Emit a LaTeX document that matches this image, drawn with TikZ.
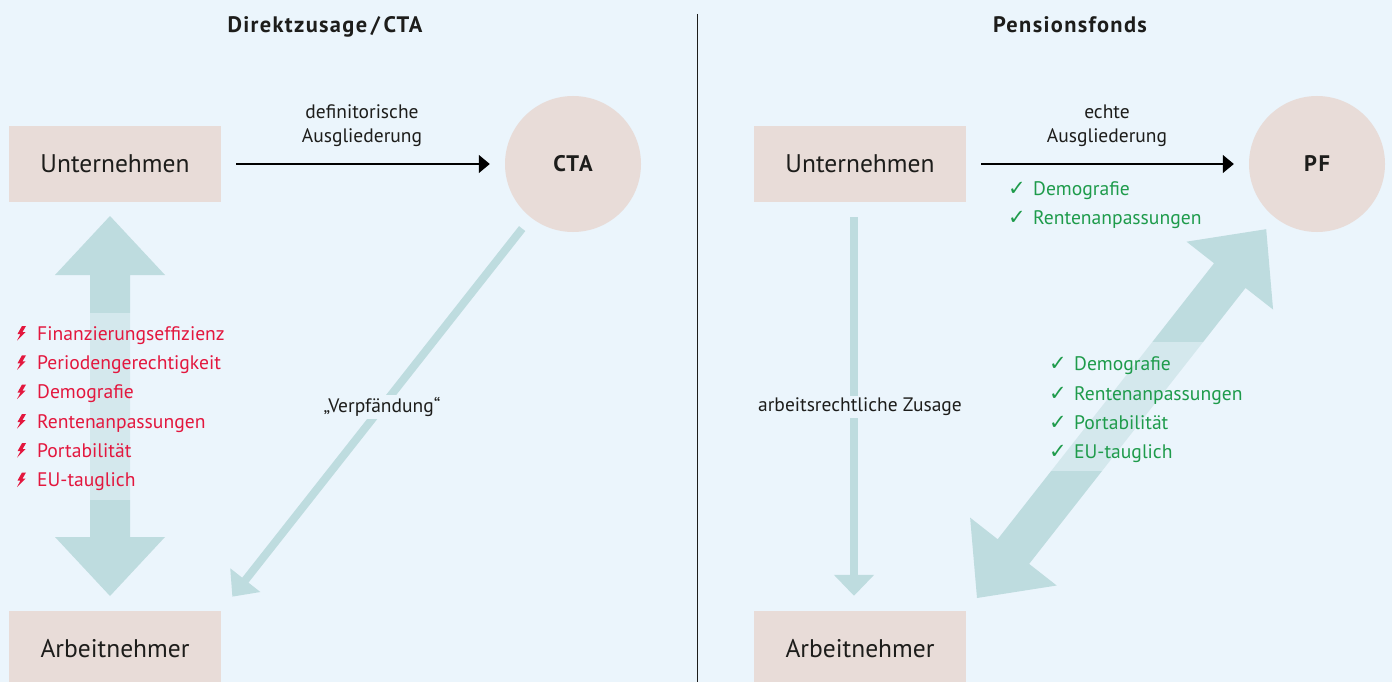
\documentclass[tikz,border=0pt]{standalone}
\usepackage{fontspec}
\setmainfont{PT Sans}
\newfontfamily\titlefont[LetterSpace=6]{PT Sans}
\newfontfamily\circfont[LetterSpace=7]{PT Sans}
\newfontfamily\symfont{DejaVu Sans}
\usetikzlibrary{arrows.meta,calc}
\definecolor{bgc}{HTML}{EBF5FC}
\definecolor{boxc}{HTML}{E8DCD8}
\definecolor{arrc}{HTML}{BEDCDF}
\definecolor{redc}{HTML}{E3173E}
\definecolor{greenc}{HTML}{1E9B4B}
\definecolor{txtc}{HTML}{1D1D1B}
\newcommand\chk{{\symfont\fontsize{21}{22}\selectfont ✓}}
\tikzset{
  box/.style={fill=boxc, minimum width=212pt, minimum height=76pt, inner sep=0pt, text=txtc, font=\fontsize{25.5}{28}\selectfont},
  circ/.style={circle, fill=boxc, minimum size=136pt, inner sep=0pt, text=txtc, font=\circfont\fontsize{22.5}{24}\selectfont\bfseries},
  ttl/.style={anchor=base, inner sep=0pt, text=txtc, font=\titlefont\fontsize{22.4}{26}\selectfont\bfseries},
  lbl/.style={anchor=base, inner sep=0pt, text=txtc, font=\fontsize{19.5}{22}\selectfont},
  gaplbl/.style={fill=bgc, inner sep=2pt, text=txtc, font=\fontsize{19.5}{22}\selectfont},
  ritem/.style={anchor=base west, inner sep=0pt, text=redc, font=\fontsize{19.6}{22}\selectfont},
  gitem/.style={anchor=base west, inner sep=0pt, text=greenc, font=\fontsize{19.6}{22}\selectfont},
  conn/.style={draw=black, line width=1.3pt, -{Triangle[length=11pt,width=18pt]}, shorten <=15pt, shorten >=15pt},
  tealconn/.style={draw=arrc, line width=8pt},
  bigarr/.style={fill=arrc},
  veil/.style={fill=bgc, opacity=0.5},
  bolt/.pic={\fill[redc] (1,-7) -- (5,-7) -- (1.5,-1) -- (4.5,-1) -- (-4,7.5) -- (-0.5,1) -- (-3.5,1) -- cycle;}
}
\begin{document}
\begin{tikzpicture}[x=1pt,y=-1pt]
\fill[bgc] (0,0) rectangle (1392,682);
\useasboundingbox (0,0) rectangle (1392,682);

% divider
\draw[txtc, line width=0.9pt] (697,14) -- (697,682);

% titles
\node[ttl] (t1) at (325,32.7) {Direktzusage\,/\,CTA};
\node[ttl] (t2) at (1070,32.7) {Pensionsfonds};

% left big double arrow
\fill[bigarr] (110,216) -- (165,275) -- (130,275) -- (130,537) -- (165,537) -- (110,596) -- (55,537) -- (90,537) -- (90,275) -- (55,275) -- cycle;
\fill[veil] (14,313) rectangle (226,500);

% right big double arrow
\begin{scope}[shift={(977,598)}, rotate=51.9]
\fill[bigarr] (0,0) -- (59,55) -- (59,20) -- (409.7,20) -- (409.7,55) -- (468.7,0) -- (409.7,-55) -- (409.7,-20) -- (59,-20) -- (59,-55) -- cycle;
\end{scope}
\fill[veil] (1040,342) rectangle (1258,471);

% nodes
\node[box] (u1) at (115,164) {Unternehmen};
\node[box] (a1) at (115,649) {Arbeitnehmer};
\node[circ] (cta) at (573,164) {CTA};
\node[box] (u2) at (860,164) {Unternehmen};
\node[box] (a2) at (860,649) {Arbeitnehmer};
\node[circ] (pf) at (1317,164) {PF};

% connectors
\draw[conn] (u1) -- (cta);
\draw[conn] (u2) -- (pf);
\draw[tealconn, -{Triangle[length=21pt,width=37pt]}, shorten <=14pt, shorten >=18pt] (cta) -- (a1.north east);
\draw[tealconn, -{Triangle[length=21pt,width=39pt]}, shorten <=15pt, shorten >=15pt] ([xshift=-6pt]u2.south) -- ([xshift=-6pt]a2.north);

% labels
\node[lbl] (l1) at (362,118.5) {definitorische};
\node[lbl] (l2) at (362,142.5) {Ausgliederung};
\node[lbl] (l3) at (1107,118.5) {echte};
\node[lbl] (l4) at (1107,142.5) {Ausgliederung};
\node[gaplbl] (l5) at (382,407) {„Verpfändung“};
\node[gaplbl] (l6) at (860,407) {arbeitsrechtliche Zusage};

% red list
\foreach \y/\t [count=\i] in {340/Finanzierungseffizienz, 369.3/Periodengerechtigkeit, 398.6/Demografie, 428/Rentenanpassungen, 457.2/Portabilität, 486.5/EU-tauglich}{
  \pic at (21,\y-7) {bolt};
  \node[ritem] (r\i) at (37,\y) {\t};
}

% green lists
\foreach \y/\t [count=\i] in {195/Demografie, 224/Rentenanpassungen}{
  \node[gitem] (g\i) at (1008,\y) {\makebox[25pt][l]{\chk}\t};
}
\foreach \y/\t [count=\i] in {370.7/Demografie, 400/Rentenanpassungen, 429.3/Portabilität, 458.6/EU-tauglich}{
  \node[gitem] (h\i) at (1049,\y) {\makebox[25pt][l]{\chk}\t};
}
\end{tikzpicture}
\end{document}
